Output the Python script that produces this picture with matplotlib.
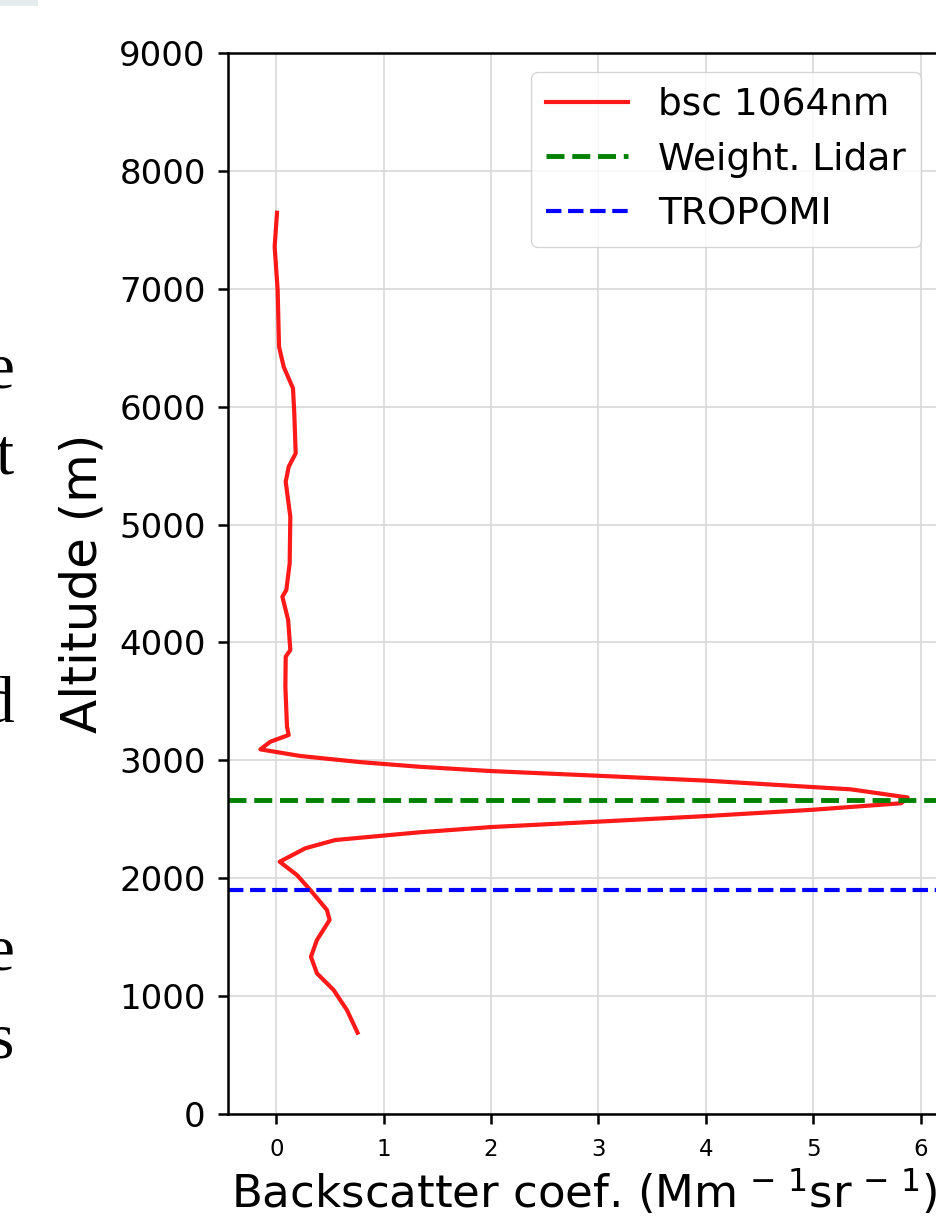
import numpy as np
import matplotlib.pyplot as plt
from matplotlib.patches import Rectangle

# backscatter profile (top -> bottom)
altitude = [7645, 7357, 6990, 6509, 6339, 6155, 5944, 5604, 5491, 5363,
            5067, 4671, 4445, 4388, 4190, 3936, 3879, 3625, 3286, 3215,
            3158, 3093, 3037, 2985, 2945, 2909, 2869, 2828, 2773, 2754,
            2685, 2636, 2581, 2527, 2480, 2434, 2390, 2324, 2254, 2140,
            2027, 1900, 1731, 1646, 1476, 1334, 1193, 1052, 882, 690]
bsc = [0.006, -0.016, 0.012, 0.025, 0.068, 0.155, 0.167, 0.18, 0.115, 0.087,
       0.13, 0.124, 0.093, 0.056, 0.11, 0.13, 0.087, 0.084, 0.099, 0.115,
       -0.056, -0.149, 0.223, 0.78, 1.34, 2.0, 3.0, 4.0, 5.0, 5.35,
       5.88, 5.82, 5.0, 4.0, 3.0, 2.0, 1.338, 0.548, 0.27, 0.031,
       0.192, 0.316, 0.471, 0.496, 0.378, 0.322, 0.378, 0.533, 0.657, 0.756]

lidar_height = 2660
tropomi_height = 1900

# bits of the neighbouring page text that show up at the left edge
side_letters = ['e', 't', 'd', 'e', 's']
side_baselines = [388, 473, 722, 970, 1058]

W, H = 937, 1216
fig = plt.figure(figsize=(W / 100, H / 100), dpi=100)
ax = fig.add_axes([228 / W, (H - 1114) / H, (940 - 228) / W, (1114 - 53) / H])

ax.plot(bsc, altitude, color='red', alpha=0.9, lw=3, label='bsc 1064nm')
ax.axhline(lidar_height, color='green', ls='--', lw=3.5, label='Weight. Lidar')
ax.axhline(tropomi_height, color='blue', ls='--', lw=3, label='TROPOMI')

ax.set_ylim(0, 9000)
ax.set_yticks(np.arange(0, 9001, 1000))
ax.set_xticks(np.arange(0, 7, 1))
ax.grid(True, color='#d8d8d8', lw=1.2)
ax.set_axisbelow(True)

for s in ax.spines.values():
    s.set_linewidth(1.8)
ax.tick_params(axis='both', length=7, width=1.8)
ax.tick_params(axis='y', labelsize=24.5, pad=9)
ax.tick_params(axis='x', labelsize=16.5, pad=10)

ax.set_xlabel(r'Backscatter coef. (Mm$^{\,-\,1}$sr$^{\,-\,1}$)', fontsize=32.5, labelpad=5)
ax.set_ylabel('Altitude (m)', fontsize=36, labelpad=9)

ax.legend(loc='upper right', fontsize=27, handlelength=2.2)

for ch, yb in zip(side_letters, side_baselines):
    fig.text(14 / W, 1 - yb / H, ch, ha='right', va='baseline',
             family='Liberation Serif', fontsize=47)

fig.add_artist(Rectangle((0, 1 - 6 / H), 38 / W, 6 / H, transform=fig.transFigure,
                         color='#e6ecee', lw=0))

fig.savefig('out.png', dpi=100)
